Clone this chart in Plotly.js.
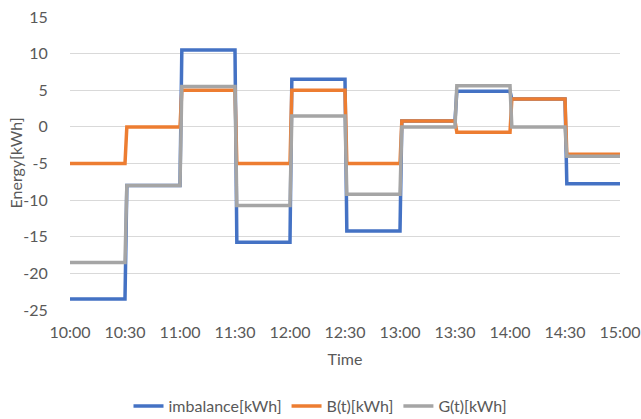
<!DOCTYPE html>
<html>
<head>
<meta charset="utf-8">
<script src="https://cdn.plot.ly/plotly-3.0.1.min.js"></script>
<style>
  html, body { margin: 0; padding: 0; background: #ffffff; }
  #chart { width: 641px; height: 419px; }
</style>
</head>
<body>
<div id="chart"></div>
<script>
// Half-hour intervals (start times) and the energy held over each interval
const intervalStarts = ['10:00', '10:30', '11:00', '11:30', '12:00', '12:30', '13:00', '13:30', '14:00', '14:30'];
const endTime = '15:00';
const imbalance = [-23.5, -8, 10.5, -15.75, 6.5, -14.2, 0.8, 4.85, 3.8, -7.75];
const bValues = [-5, 0, 5, -5, 5, -5, 0.8, -0.75, 3.8, -3.75];
const gValues = [-18.5, -8, 5.5, -10.75, 1.5, -9.2, 0, 5.6, 0, -4];
const tickLabels = ['10:00', '10:30', '11:00', '11:30', '12:00', '12:30', '13:00', '13:30', '14:00', '14:30', '15:00'];
const yTickVals = [-25, -20, -15, -10, -5, 0, 5, 10, 15];
const yTickText = ['-25', '-20', '-15', '-10', '-5', '0', '5', '10', '15'];
const xTitle = 'Time';
const yTitle = 'Energy[kWh]';

const day = '2024-01-01 ';
function addMinute(hhmm) {
  const [h, m] = hhmm.split(':').map(Number);
  const t = h * 60 + m + 1;
  return String(Math.floor(t / 60)).padStart(2, '0') + ':' + String(t % 60).padStart(2, '0');
}

// Each interval is held flat; the level changes over the first minute of the next one
function stepSeries(values) {
  const xs = [], ys = [];
  values.forEach((v, i) => {
    const start = i === 0 ? intervalStarts[i] : addMinute(intervalStarts[i]);
    const end = i + 1 < intervalStarts.length ? intervalStarts[i + 1] : endTime;
    xs.push(day + start, day + end);
    ys.push(v, v);
  });
  return { x: xs, y: ys };
}

const textColor = '#595959';
const font = { family: 'Lato, "Open Sans", sans-serif', size: 16, color: textColor };

const series = [
  { name: 'imbalance[kWh]', values: imbalance, color: '#4472C4' },
  { name: 'B(t)[kWh]', values: bValues, color: '#ED7D31' },
  { name: 'G(t)[kWh]', values: gValues, color: '#A5A5A5' }
];

const traces = series.map(s => {
  const pts = stepSeries(s.values);
  return {
    type: 'scatter',
    mode: 'lines',
    name: s.name,
    x: pts.x,
    y: pts.y,
    line: { color: s.color, width: 3.5, shape: 'linear' },
    hoverinfo: 'skip'
  };
});

const layout = {
  width: 641,
  height: 419,
  margin: { l: 70, r: 21, t: 17, b: 109, autoexpand: false },
  paper_bgcolor: '#ffffff',
  plot_bgcolor: '#ffffff',
  font: font,
  showlegend: true,
  legend: {
    orientation: 'h',
    x: 0.5,
    xref: 'container',
    xanchor: 'center',
    y: 0.031,
    yref: 'container',
    yanchor: 'middle',
    font: font,
    tracegroupgap: 0
  },
  xaxis: {
    type: 'date',
    range: [day + '10:00', day + endTime],
    tickvals: tickLabels.map(t => day + t),
    ticktext: tickLabels,
    showgrid: false,
    zeroline: false,
    showline: false,
    ticks: 'outside',
    ticklen: 8,
    tickcolor: 'rgba(0,0,0,0)',
    tickfont: font,
    automargin: false,
    title: { text: xTitle, font: font, standoff: 13 }
  },
  yaxis: {
    range: [-25, 15],
    tickvals: yTickVals,
    ticktext: yTickText,
    showgrid: true,
    gridcolor: '#d9d9d9',
    gridwidth: 1,
    zeroline: false,
    showline: false,
    ticks: 'outside',
    ticklen: 18,
    tickcolor: 'rgba(0,0,0,0)',
    tickfont: font,
    automargin: false
  },
  // Vertical axis title, set a fixed distance left of the plot area
  annotations: [{
    text: yTitle,
    xref: 'paper',
    yref: 'paper',
    x: 0,
    y: 0.5,
    xanchor: 'center',
    yanchor: 'middle',
    xshift: -55,
    textangle: -90,
    showarrow: false,
    font: font
  }]
};

Plotly.newPlot('chart', traces, layout, { displayModeBar: false, staticPlot: true });
</script>
</body>
</html>
